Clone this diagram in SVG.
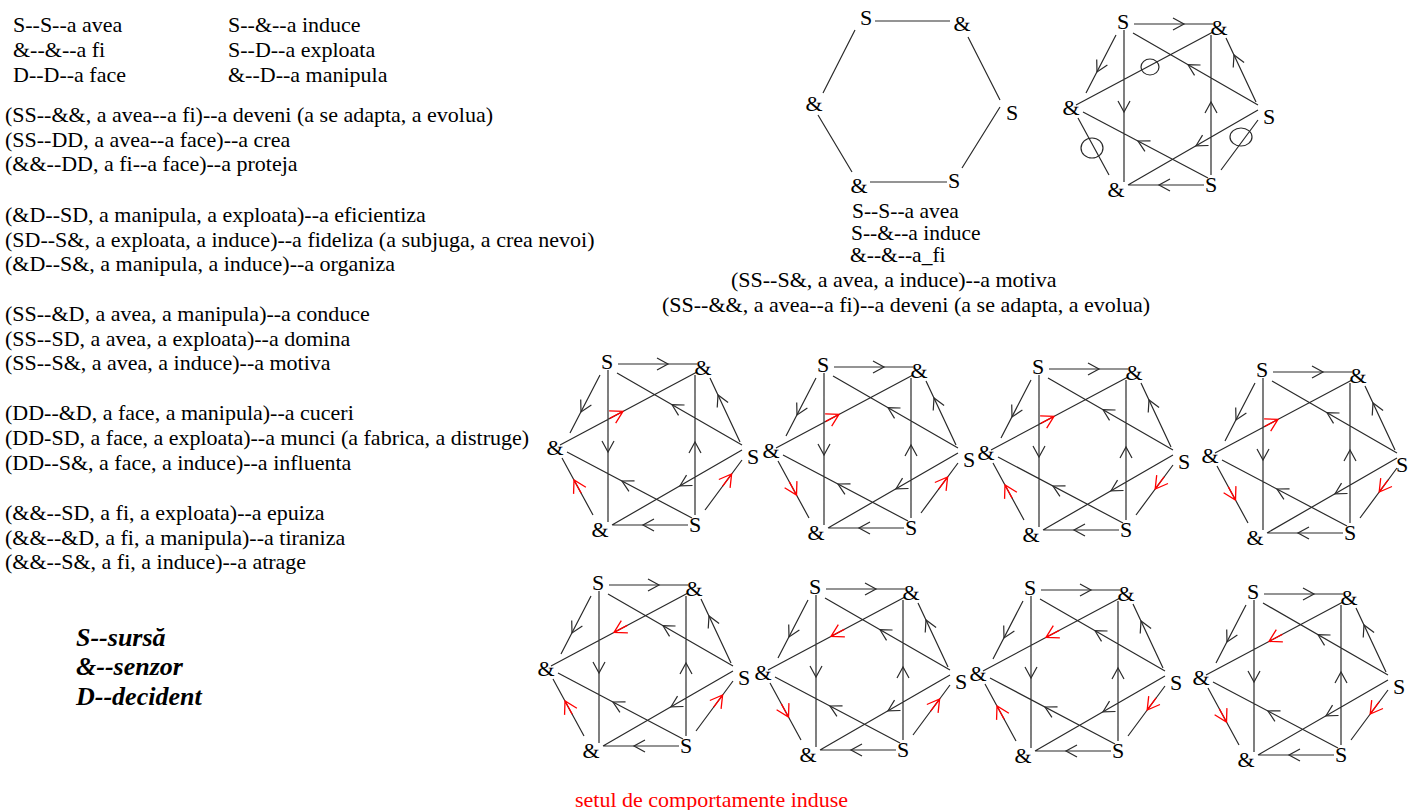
<svg xmlns="http://www.w3.org/2000/svg" xmlns:xlink="http://www.w3.org/1999/xlink" width="1410" height="810" viewBox="0 0 1410 810">
<style>
.t{font-family:"Liberation Serif","Times New Roman",serif;font-size:22px;fill:#000}
.sm{font-size:21.5px}
.bi{font-weight:bold;font-style:italic;font-size:26px}
.red{fill:#ff0000}
.lbl{font-family:"Liberation Serif","Times New Roman",serif;font-size:22px;fill:#000;text-anchor:middle}
.ln{stroke:#2a2a2a;stroke-width:1.2;fill:none}
.ah{stroke:#2a2a2a;stroke-width:1.2;fill:none}
.rd{stroke:#ff0000;stroke-width:1.3;fill:none}
.cir{stroke:#2a2a2a;stroke-width:1.2;fill:none}
</style>
<defs>
<path id="hexE" d="M11,2 H90 M-7,13 L-37,71 M1,8 V160 M10,11 L135,83 M90,10 L-47,83 M88,13 V153 M133,80 L103,16 M-40,90 L85,156 M-45,96 L-14,153 M135,88 L5,163 M135,98 L98,148 M81,163 H5"/>
<path id="ah" d="M-11,-6 L0,0 L-11,6"/>
<path id="rah" d="M-12,-7 L0,0 L-12,7 M0,0 H-15"/>
<g id="hexA">
<use href="#ah" transform="translate(61,2)"/>
<use href="#ah" transform="translate(-26,50) rotate(117.3)"/>
<use href="#ah" transform="translate(1,90) rotate(90)"/>
<use href="#ah" transform="translate(65,42.7) rotate(-150.1)"/>
<use href="#ah" transform="translate(88,80) rotate(-90)"/>
<use href="#ah" transform="translate(111,33) rotate(-115.1)"/>
<use href="#ah" transform="translate(15,119) rotate(-152.2)"/>
<use href="#ah" transform="translate(73,123.8) rotate(150)"/>
<use href="#ah" transform="translate(36,163) rotate(180)"/>
</g>
</defs>
<rect width="1410" height="810" fill="#fff"/>

<g id="legend-text">
<text class="t" x="13" y="32">S--S--a avea</text>
<text class="t" x="13" y="57">&amp;--&amp;--a fi</text>
<text class="t" x="13" y="81.5">D--D--a face</text>
<text class="t" x="228" y="32">S--&amp;--a induce</text>
<text class="t" x="228" y="57">S--D--a exploata</text>
<text class="t" x="228" y="81.5">&amp;--D--a manipula</text>
<text class="t" x="5" y="122">(SS--&amp;&amp;, a avea--a fi)--a deveni (a se adapta, a evolua)</text>
<text class="t" x="5" y="147">(SS--DD, a avea--a face)--a crea</text>
<text class="t" x="5" y="171">(&amp;&amp;--DD, a fi--a face)--a proteja</text>
<text class="t" x="5" y="222">(&amp;D--SD, a manipula, a exploata)--a eficientiza</text>
<text class="t" x="5" y="247">(SD--S&amp;, a exploata, a induce)--a fideliza (a subjuga, a crea nevoi)</text>
<text class="t" x="5" y="271">(&amp;D--S&amp;, a manipula, a induce)--a organiza</text>
<text class="t" x="5" y="321">(SS--&amp;D, a avea, a manipula)--a conduce</text>
<text class="t" x="5" y="346">(SS--SD, a avea, a exploata)--a domina</text>
<text class="t" x="5" y="370">(SS--S&amp;, a avea, a induce)--a motiva</text>
<text class="t" x="5" y="420">(DD--&amp;D, a face, a manipula)--a cuceri</text>
<text class="t" x="5" y="445">(DD-SD, a face, a exploata)--a munci (a fabrica, a distruge)</text>
<text class="t" x="5" y="470">(DD--S&amp;, a face, a induce)--a influenta</text>
<text class="t" x="5" y="520">(&amp;&amp;--SD, a fi, a exploata)--a epuiza</text>
<text class="t" x="5" y="545">(&amp;&amp;--&amp;D, a fi, a manipula)--a tiraniza</text>
<text class="t" x="5" y="569">(&amp;&amp;--S&amp;, a fi, a induce)--a atrage</text>
<text class="t bi" x="76" y="646">S--sursă</text>
<text class="t bi" x="76" y="675">&amp;--senzor</text>
<text class="t bi" x="76" y="705">D--decident</text>
</g>

<g id="hex0" transform="translate(866,18)">
<g id="hex0-connectors" class="ln">
<path d="M9,3 H84 M-11,12 L-43,75 M-48,97 L-14,154 M4,164 H81 M96,150 L134,89 M102,19 L134,82"/>
</g>
<g id="hex0-n1"><text class="lbl" x="0" y="7">S</text></g>
<g id="hex0-n2"><text class="lbl" x="96" y="13">&amp;</text></g>
<g id="hex0-n3"><text class="lbl" x="146" y="102">S</text></g>
<g id="hex0-n4"><text class="lbl" x="88" y="170">S</text></g>
<g id="hex0-n5"><text class="lbl" x="-7" y="175">&amp;</text></g>
<g id="hex0-n6"><text class="lbl" x="-52" y="93">&amp;</text></g>
</g>

<g id="hex0-text">
<text class="t sm" x="852" y="218">S--S--a avea</text>
<text class="t sm" x="851" y="240">S--&amp;--a induce</text>
<text class="t sm" x="850" y="262">&amp;--&amp;--a_fi</text>
<text class="t" x="731" y="287">(SS--S&amp;, a avea, a induce)--a motiva</text>
<text class="t" x="662" y="312">(SS--&amp;&amp;, a avea--a fi)--a deveni (a se adapta, a evolua)</text>
</g>

<g id="hexC" transform="translate(1123,22)">
<g id="hexC-connectors">
<use href="#hexE" class="ln"/><use href="#hexA" class="ah"/>
<ellipse class="cir" cx="27" cy="45" rx="9" ry="8"/>
<ellipse class="cir" cx="-31" cy="126" rx="11" ry="10"/>
<ellipse class="cir" cx="118" cy="115" rx="11" ry="9"/>
</g>
<g id="hexC-n1"><text class="lbl" x="0" y="7">S</text></g>
<g id="hexC-n2"><text class="lbl" x="96" y="13">&amp;</text></g>
<g id="hexC-n3"><text class="lbl" x="146" y="102">S</text></g>
<g id="hexC-n4"><text class="lbl" x="88" y="170">S</text></g>
<g id="hexC-n5"><text class="lbl" x="-7" y="175">&amp;</text></g>
<g id="hexC-n6"><text class="lbl" x="-52" y="93">&amp;</text></g>
</g>

<g id="hex1" transform="translate(607,362)">
<g id="hex1-connectors"><use href="#hexE" class="ln"/><use href="#hexA" class="ah"/>
<use href="#rah" class="rd" transform="translate(16,49.4) rotate(-28)"/>
<use href="#rah" class="rd" transform="translate(-33,118) rotate(-118.5)"/>
<use href="#rah" class="rd" transform="translate(124.6,112) rotate(-53.5)"/>
</g>
<g id="hex1-n1"><text class="lbl" x="0" y="7">S</text></g>
<g id="hex1-n2"><text class="lbl" x="96" y="13">&amp;</text></g>
<g id="hex1-n3"><text class="lbl" x="146" y="102">S</text></g>
<g id="hex1-n4"><text class="lbl" x="88" y="170">S</text></g>
<g id="hex1-n5"><text class="lbl" x="-7" y="175">&amp;</text></g>
<g id="hex1-n6"><text class="lbl" x="-52" y="93">&amp;</text></g>
</g>

<g id="hex2" transform="translate(823,365)">
<g id="hex2-connectors"><use href="#hexE" class="ln"/><use href="#hexA" class="ah"/>
<use href="#rah" class="rd" transform="translate(16,49.4) rotate(-28)"/>
<use href="#rah" class="rd" transform="translate(-26.5,130) rotate(61.5)"/>
<use href="#rah" class="rd" transform="translate(124.6,112) rotate(-53.5)"/>
</g>
<g id="hex2-n1"><text class="lbl" x="0" y="7">S</text></g>
<g id="hex2-n2"><text class="lbl" x="96" y="13">&amp;</text></g>
<g id="hex2-n3"><text class="lbl" x="146" y="102">S</text></g>
<g id="hex2-n4"><text class="lbl" x="88" y="170">S</text></g>
<g id="hex2-n5"><text class="lbl" x="-7" y="175">&amp;</text></g>
<g id="hex2-n6"><text class="lbl" x="-52" y="93">&amp;</text></g>
</g>

<g id="hex3" transform="translate(1038,367)">
<g id="hex3-connectors"><use href="#hexE" class="ln"/><use href="#hexA" class="ah"/>
<use href="#rah" class="rd" transform="translate(16,49.4) rotate(-28)"/>
<use href="#rah" class="rd" transform="translate(-33,118) rotate(-118.5)"/>
<use href="#rah" class="rd" transform="translate(117.2,122) rotate(126.5)"/>
</g>
<g id="hex3-n1"><text class="lbl" x="0" y="7">S</text></g>
<g id="hex3-n2"><text class="lbl" x="96" y="13">&amp;</text></g>
<g id="hex3-n3"><text class="lbl" x="146" y="102">S</text></g>
<g id="hex3-n4"><text class="lbl" x="88" y="170">S</text></g>
<g id="hex3-n5"><text class="lbl" x="-7" y="175">&amp;</text></g>
<g id="hex3-n6"><text class="lbl" x="-52" y="93">&amp;</text></g>
</g>

<g id="hex4" transform="translate(1262,370)">
<g id="hex4-connectors"><use href="#hexE" class="ln"/><use href="#hexA" class="ah"/>
<use href="#rah" class="rd" transform="translate(16,49.4) rotate(-28)"/>
<use href="#rah" class="rd" transform="translate(-26.5,130) rotate(61.5)"/>
<use href="#rah" class="rd" transform="translate(117.2,122) rotate(126.5)"/>
</g>
<g id="hex4-n1"><text class="lbl" x="0" y="7">S</text></g>
<g id="hex4-n2"><text class="lbl" x="96" y="13">&amp;</text></g>
<g id="hex4-n3"><text class="lbl" x="140" y="102">S</text></g>
<g id="hex4-n4"><text class="lbl" x="88" y="170">S</text></g>
<g id="hex4-n5"><text class="lbl" x="-7" y="175">&amp;</text></g>
<g id="hex4-n6"><text class="lbl" x="-52" y="93">&amp;</text></g>
</g>

<g id="hex5" transform="translate(598,583)">
<g id="hex5-connectors"><use href="#hexE" class="ln"/><use href="#hexA" class="ah"/>
<use href="#rah" class="rd" transform="translate(16,49.4) rotate(152)"/>
<use href="#rah" class="rd" transform="translate(-33,118) rotate(-118.5)"/>
<use href="#rah" class="rd" transform="translate(124.6,112) rotate(-53.5)"/>
</g>
<g id="hex5-n1"><text class="lbl" x="0" y="7">S</text></g>
<g id="hex5-n2"><text class="lbl" x="96" y="13">&amp;</text></g>
<g id="hex5-n3"><text class="lbl" x="146" y="102">S</text></g>
<g id="hex5-n4"><text class="lbl" x="88" y="170">S</text></g>
<g id="hex5-n5"><text class="lbl" x="-7" y="175">&amp;</text></g>
<g id="hex5-n6"><text class="lbl" x="-52" y="93">&amp;</text></g>
</g>

<g id="hex6" transform="translate(815,587)">
<g id="hex6-connectors"><use href="#hexE" class="ln"/><use href="#hexA" class="ah"/>
<use href="#rah" class="rd" transform="translate(16,49.4) rotate(152)"/>
<use href="#rah" class="rd" transform="translate(-26.5,130) rotate(61.5)"/>
<use href="#rah" class="rd" transform="translate(124.6,112) rotate(-53.5)"/>
</g>
<g id="hex6-n1"><text class="lbl" x="0" y="7">S</text></g>
<g id="hex6-n2"><text class="lbl" x="96" y="13">&amp;</text></g>
<g id="hex6-n3"><text class="lbl" x="146" y="102">S</text></g>
<g id="hex6-n4"><text class="lbl" x="88" y="170">S</text></g>
<g id="hex6-n5"><text class="lbl" x="-7" y="175">&amp;</text></g>
<g id="hex6-n6"><text class="lbl" x="-52" y="93">&amp;</text></g>
</g>

<g id="hex7" transform="translate(1030,588)">
<g id="hex7-connectors"><use href="#hexE" class="ln"/><use href="#hexA" class="ah"/>
<use href="#rah" class="rd" transform="translate(16,49.4) rotate(152)"/>
<use href="#rah" class="rd" transform="translate(-33,118) rotate(-118.5)"/>
<use href="#rah" class="rd" transform="translate(117.2,122) rotate(126.5)"/>
</g>
<g id="hex7-n1"><text class="lbl" x="0" y="7">S</text></g>
<g id="hex7-n2"><text class="lbl" x="96" y="13">&amp;</text></g>
<g id="hex7-n3"><text class="lbl" x="146" y="102">S</text></g>
<g id="hex7-n4"><text class="lbl" x="88" y="170">S</text></g>
<g id="hex7-n5"><text class="lbl" x="-7" y="175">&amp;</text></g>
<g id="hex7-n6"><text class="lbl" x="-52" y="93">&amp;</text></g>
</g>

<g id="hex8" transform="translate(1253,592)">
<g id="hex8-connectors"><use href="#hexE" class="ln"/><use href="#hexA" class="ah"/>
<use href="#rah" class="rd" transform="translate(16,49.4) rotate(152)"/>
<use href="#rah" class="rd" transform="translate(-26.5,130) rotate(61.5)"/>
<use href="#rah" class="rd" transform="translate(117.2,122) rotate(126.5)"/>
</g>
<g id="hex8-n1"><text class="lbl" x="0" y="7">S</text></g>
<g id="hex8-n2"><text class="lbl" x="96" y="13">&amp;</text></g>
<g id="hex8-n3"><text class="lbl" x="146" y="102">S</text></g>
<g id="hex8-n4"><text class="lbl" x="88" y="170">S</text></g>
<g id="hex8-n5"><text class="lbl" x="-7" y="175">&amp;</text></g>
<g id="hex8-n6"><text class="lbl" x="-52" y="93">&amp;</text></g>
</g>

<text class="t red" x="575" y="807">setul de comportamente induse</text>
</svg>
